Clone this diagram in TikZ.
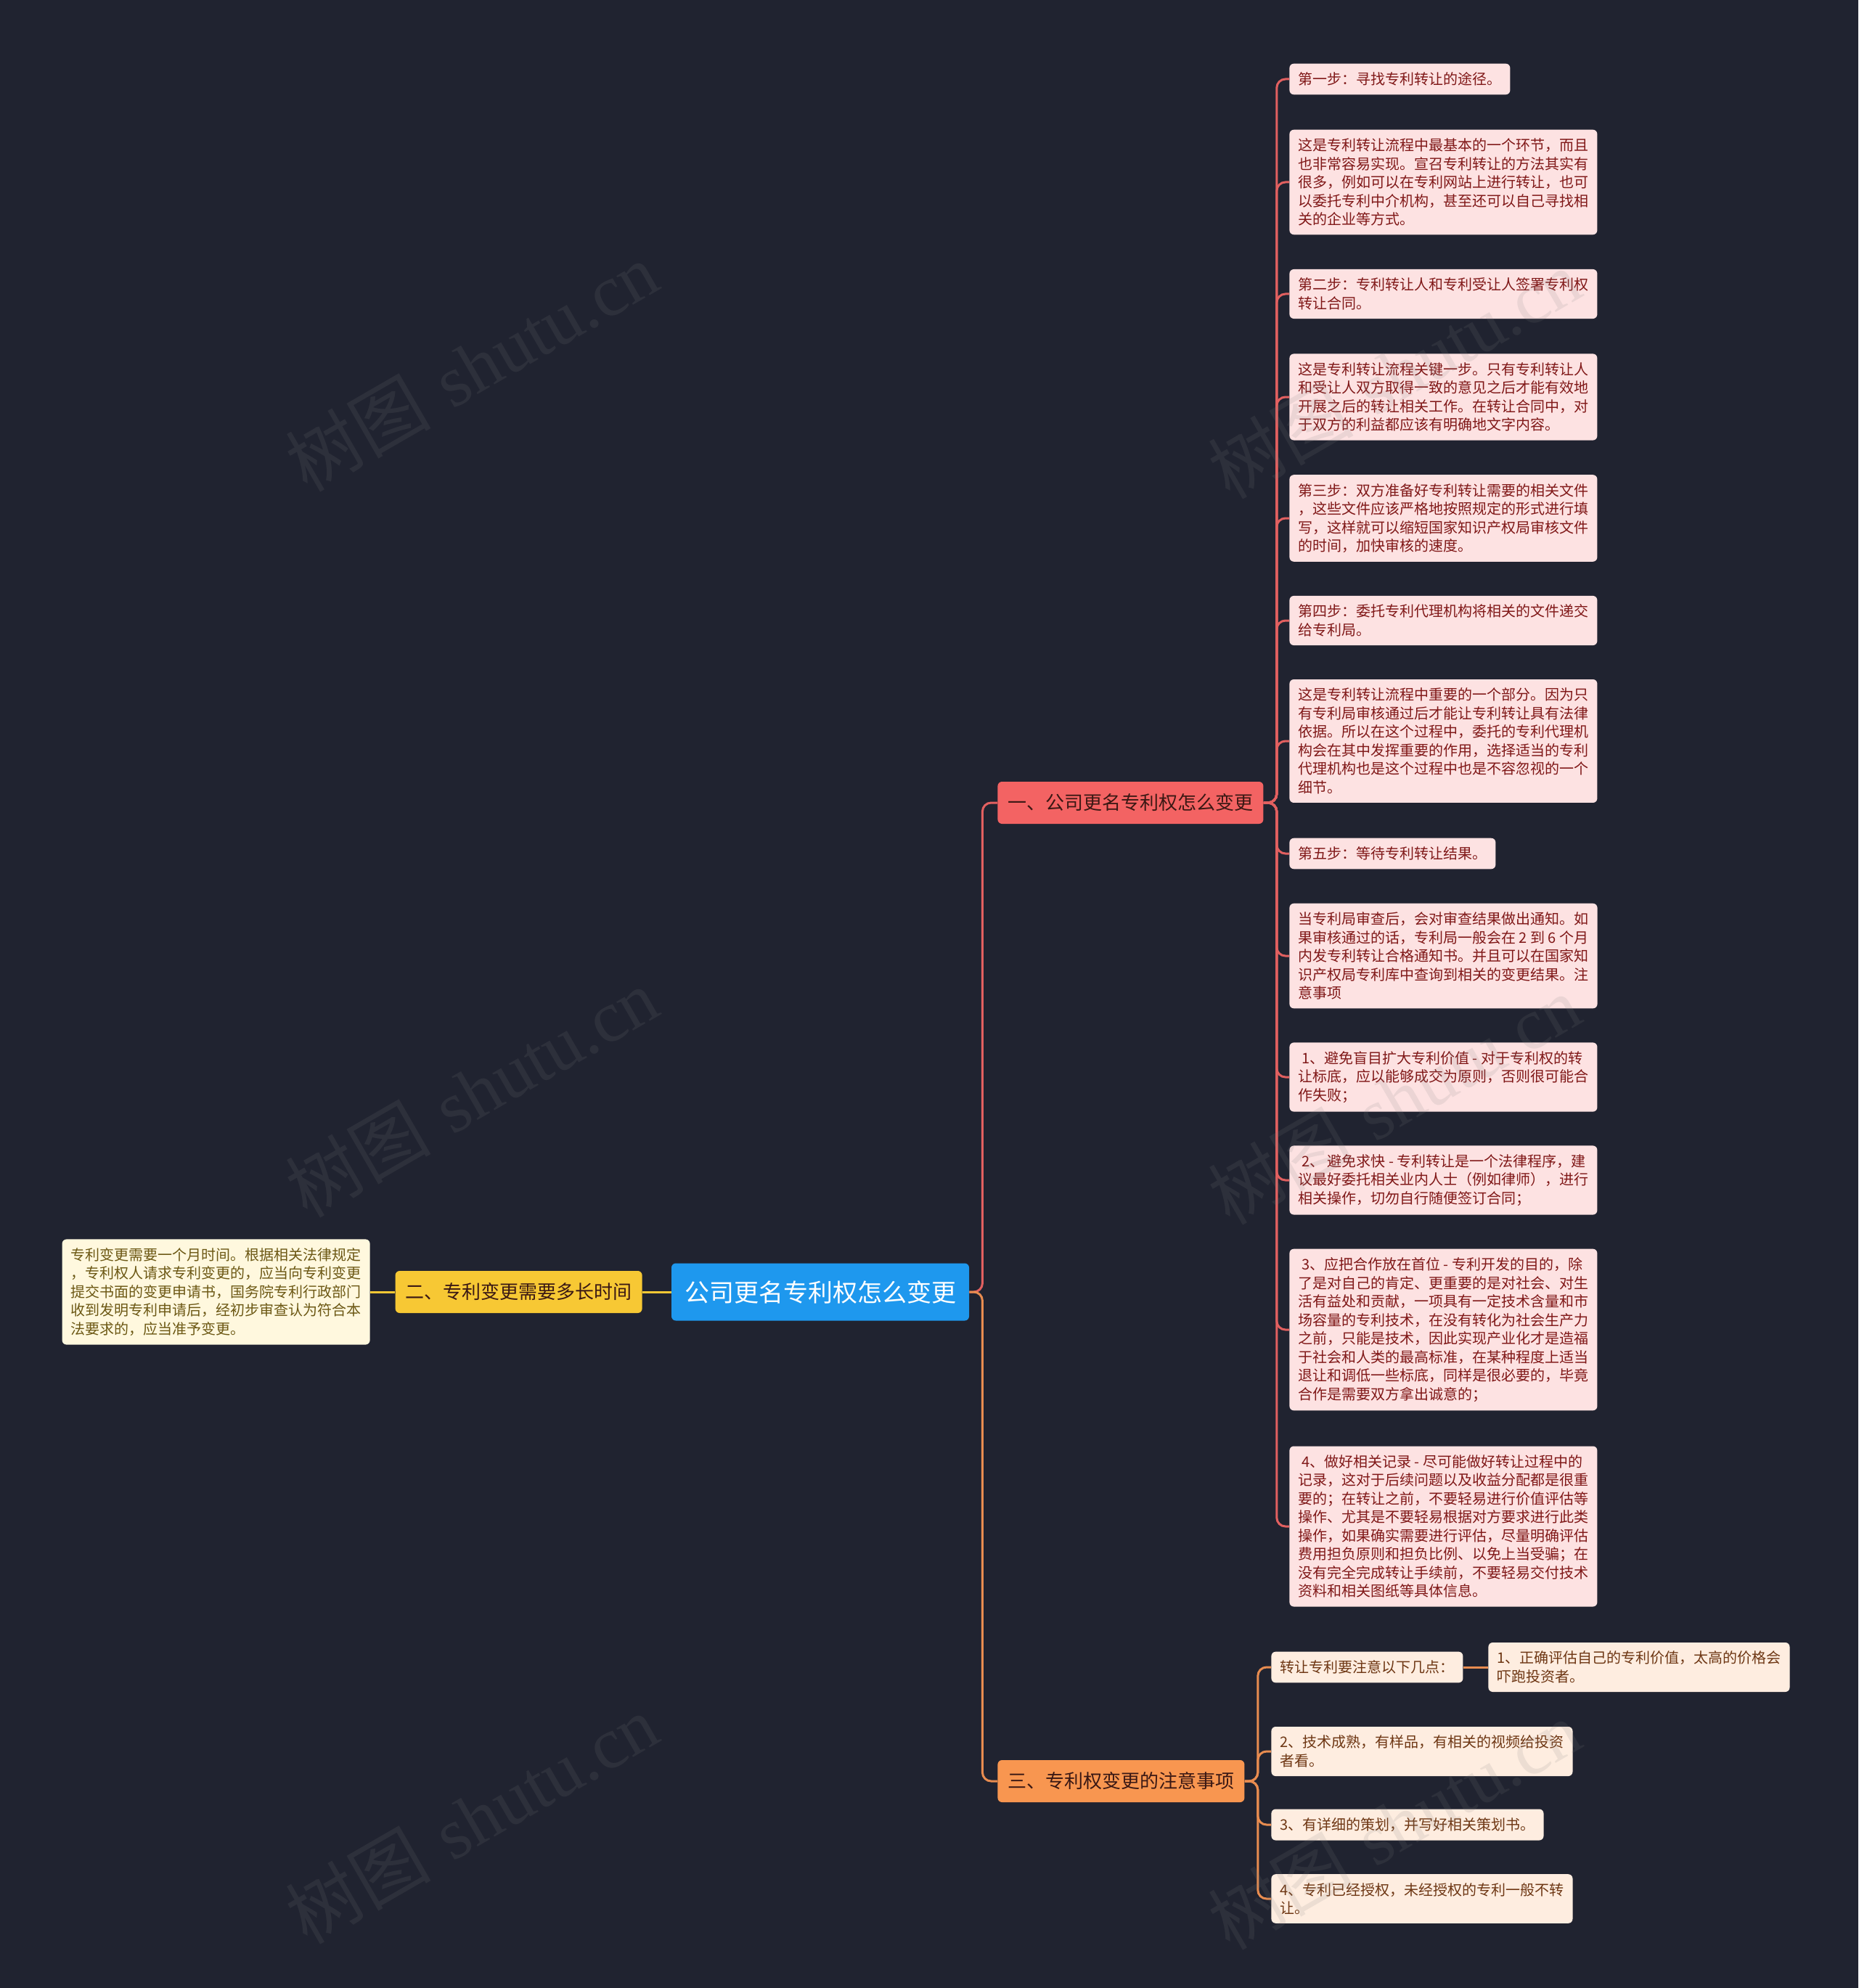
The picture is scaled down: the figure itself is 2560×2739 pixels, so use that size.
\documentclass[tikz,border=0pt]{standalone}
\usepackage{fontspec}
\newfontfamily\cjk{Noto Sans CJK SC}
\newfontfamily\wmserif{Liberation Serif}
\usetikzlibrary{positioning}
\definecolor{night}{RGB}{32,35,48}
\definecolor{azure}{RGB}{30,152,238}
\definecolor{coral}{RGB}{243,99,99}
\definecolor{corline}{RGB}{226,96,96}
\definecolor{blush}{RGB}{253,226,226}
\definecolor{wine}{RGB}{128,24,24}
\definecolor{amber}{RGB}{247,200,52}
\definecolor{cream}{RGB}{255,248,222}
\definecolor{olive}{RGB}{108,88,20}
\definecolor{tangerine}{RGB}{248,150,80}
\definecolor{tanline}{RGB}{232,140,80}
\definecolor{peach}{RGB}{254,237,224}
\definecolor{rust}{RGB}{110,55,20}
\definecolor{inkdark}{RGB}{58,24,20}

\begin{document}
\begin{tikzpicture}[x=0.5pt,y=-0.5pt,
    leaf/.style={rounded corners=3pt,inner xsep=6pt,inner ysep=6pt,align=left,anchor=west,
      font=\cjk\fontsize{10pt}{12.75pt}\selectfont},
    redleaf/.style={leaf,fill=blush,text=wine},
    tanleaf/.style={leaf,fill=peach,text=rust},
    yelleaf/.style={leaf,fill=cream,text=olive},
    branch/.style={rounded corners=3pt,inner xsep=7pt,minimum height=29pt,
      font=\cjk\fontsize{13pt}{15pt}\selectfont,text=inkdark},
    link/.style={line width=1.5pt,rounded corners=6pt},
    mark wm/.style={text=gray,opacity=0.14,rotate=30,font=\fontsize{50pt}{56pt}\selectfont}]
  \fill[night] (0,0) rectangle (2560,2739);
  \useasboundingbox (0,0) rectangle (2560,2739);

  % centre and main branches
  \node[fill=azure,text=white,rounded corners=3pt,inner xsep=9pt,minimum height=39.5pt,
    font=\cjk\fontsize{17pt}{20pt}\selectfont] (root) at (1130,1780) {公司更名专利权怎么变更};
  \node[branch,fill=coral,anchor=west] (b1) at (1374,1106) {一、公司更名专利权怎么变更};
  \node[branch,fill=amber,anchor=east] (b2) at (885,1780) {二、专利变更需要多长时间};
  \node[branch,fill=tangerine,anchor=west] (b3) at (1374,2454) {三、专利权变更的注意事项};

  % branch one
  \node[redleaf] (r1) at (1776,109) {第一步：寻找专利转让的途径。};
  \node[redleaf] (r2) at (1776,251) {这是专利转让流程中最基本的一个环节，而且\\也非常容易实现。宣召专利转让的方法其实有\\很多，例如可以在专利网站上进行转让，也可\\以委托专利中介机构，甚至还可以自己寻找相\\关的企业等方式。};
  \node[redleaf] (r3) at (1776,405) {第二步：专利转让人和专利受让人签署专利权\\转让合同。};
  \node[redleaf] (r4) at (1776,547) {这是专利转让流程关键一步。只有专利转让人\\和受让人双方取得一致的意见之后才能有效地\\开展之后的转让相关工作。在转让合同中，对\\于双方的利益都应该有明确地文字内容。};
  \node[redleaf] (r5) at (1776,714) {第三步：双方准备好专利转让需要的相关文件\\，这些文件应该严格地按照规定的形式进行填\\写，这样就可以缩短国家知识产权局审核文件\\的时间，加快审核的速度。};
  \node[redleaf] (r6) at (1776,855) {第四步：委托专利代理机构将相关的文件递交\\给专利局。};
  \node[redleaf] (r7) at (1776,1021) {这是专利转让流程中重要的一个部分。因为只\\有专利局审核通过后才能让专利转让具有法律\\依据。所以在这个过程中，委托的专利代理机\\构会在其中发挥重要的作用，选择适当的专利\\代理机构也是这个过程中也是不容忽视的一个\\细节。};
  \node[redleaf] (r8) at (1776,1176) {第五步：等待专利转让结果。};
  \node[redleaf] (r9) at (1776,1317) {当专利局审查后，会对审查结果做出通知。如\\果审核通过的话，专利局一般会在 2 到 6 个月\\内发专利转让合格通知书。并且可以在国家知\\识产权局专利库中查询到相关的变更结果。注\\意事项};
  \node[redleaf] (r10) at (1776,1484) {\hspace{2.5pt}1、避免盲目扩大专利价值 - 对于专利权的转\\让标底，应以能够成交为原则，否则很可能合\\作失败；};
  \node[redleaf] (r11) at (1776,1626) {\hspace{2.5pt}2、 避免求快 - 专利转让是一个法律程序，建\\议最好委托相关业内人士（例如律师），进行\\相关操作，切勿自行随便签订合同；};
  \node[redleaf] (r12) at (1776,1832) {\hspace{2.5pt}3、应把合作放在首位 - 专利开发的目的，除\\了是对自己的肯定、更重要的是对社会、对生\\活有益处和贡献，一项具有一定技术含量和市\\场容量的专利技术，在没有转化为社会生产力\\之前，只能是技术，因此实现产业化才是造福\\于社会和人类的最高标准，在某种程度上适当\\退让和调低一些标底，同样是很必要的，毕竟\\合作是需要双方拿出诚意的；};
  \node[redleaf] (r13) at (1776,2103) {\hspace{2.5pt}4、做好相关记录 - 尽可能做好转让过程中的\\记录，这对于后续问题以及收益分配都是很重\\要的；在转让之前，不要轻易进行价值评估等\\操作、尤其是不要轻易根据对方要求进行此类\\操作，如果确实需要进行评估，尽量明确评估\\费用担负原则和担负比例、以免上当受骗；在\\没有完全完成转让手续前，不要轻易交付技术\\资料和相关图纸等具体信息。};

  % branch two
  \node[yelleaf,anchor=east] (y1) at (510,1780) {专利变更需要一个月时间。根据相关法律规定\\，专利权人请求专利变更的，应当向专利变更\\提交书面的变更申请书，国务院专利行政部门\\收到发明专利申请后，经初步审查认为符合本\\法要求的，应当准予变更。};

  % branch three
  \node[tanleaf] (t1) at (1751,2297) {转让专利要注意以下几点：};
  \node[tanleaf] (t1a) at (2050,2297) {1、正确评估自己的专利价值，太高的价格会\\吓跑投资者。};
  \node[tanleaf] (t2) at (1751,2413) {2、技术成熟，有样品，有相关的视频给投资\\者看。};
  \node[tanleaf] (t3) at (1751,2514) {3、有详细的策划，并写好相关策划书。};
  \node[tanleaf] (t4) at (1751,2616) {4、专利已经授权，未经授权的专利一般不转\\让。};

  % connectors
  \draw[link,corline] (root.east) -- ++(18,0) |- (b1.west);
  \draw[link,tanline] (root.east) -- ++(18,0) |- (b3.west);
  \draw[link,amber] (root.west) -- (b2.east);
  \draw[link,amber] (b2.west) -- (y1.east);
  \foreach \n in {r1,r2,r3,r4,r5,r6,r7,r8,r9,r10,r11,r12,r13}
    \draw[link,corline] (b1.east) -- ++(18,0) |- (\n.west);
  \foreach \n in {t1,t2,t3,t4}
    \draw[link,tanline] (b3.east) -- ++(18,0) |- (\n.west);
  \draw[link,tanline] (t1.east) -- (t1a.west);

  % watermarks
  \foreach \wx/\wy in {650/505,650/1505,650/2506,1921/515,1921/1515,1921/2514}
    \node[mark wm] at (\wx,\wy) {{\cjk 树图} {\wmserif shutu.cn}};
\end{tikzpicture}
\end{document}
